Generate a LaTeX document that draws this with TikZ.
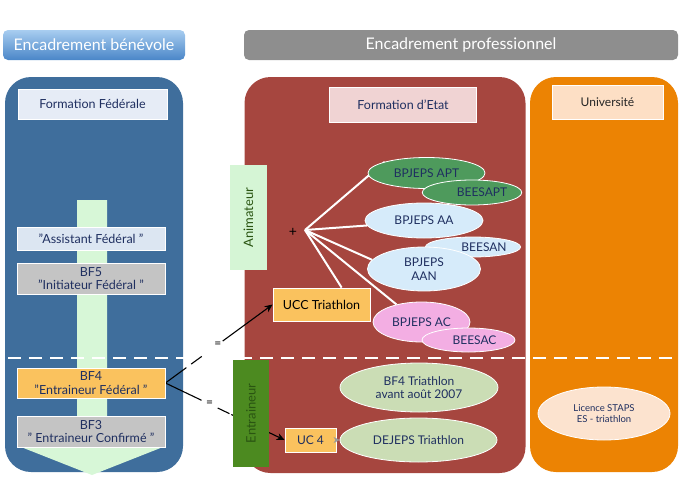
\documentclass[tikz,border=0pt]{standalone}
\usepackage{fontspec}
\setmainfont{Lato}
\usetikzlibrary{shapes.geometric,arrows.meta,calc}
\pgfdeclarelayer{back}
\pgfdeclarelayer{mid}
\pgfsetlayers{back,mid,main}
\definecolor{bluepanel}{HTML}{3F6E9C}
\definecolor{redpanel}{HTML}{A6463F}
\definecolor{orangepanel}{HTML}{EC8303}
\definecolor{grayhead}{HTML}{8E8E8E}
\definecolor{bluetop}{HTML}{A8CDF0}
\definecolor{bluebot}{HTML}{4A86C8}
\definecolor{fedbox}{HTML}{E6ECF6}
\definecolor{arrowgreen}{HTML}{D7F7D7}
\definecolor{assistbox}{HTML}{DCE6F2}
\definecolor{graybox}{HTML}{C4C4C4}
\definecolor{yellowbox}{HTML}{FAC25E}
\definecolor{etatbox}{HTML}{F0D3D3}
\definecolor{animbox}{HTML}{D5F5D5}
\definecolor{aptgreen}{HTML}{4E9A5C}
\definecolor{lightblue}{HTML}{D6EBFA}
\definecolor{pinkell}{HTML}{F3AEE3}
\definecolor{oliveell}{HTML}{CBDDB5}
\definecolor{licell}{HTML}{FCE3CF}
\definecolor{univbox}{HTML}{FDDFC5}
\definecolor{entrgreen}{HTML}{4C8A20}
\definecolor{navytext}{HTML}{1F2F60}
\definecolor{darkgreentext}{HTML}{2A5512}
\tikzset{
  x=1pt, y=-1pt,
  every node/.style={font=\fontsize{12}{13.5}\selectfont, text=navytext, align=center, inner sep=1pt},
  header/.style={rounded corners=5pt, minimum height=30, text=white, font=\fontsize{16}{18}\selectfont},
  panel/.style={rounded corners=26pt, draw=none},
  lbox/.style={draw=white, line width=0.8pt, text=black, font=\fontsize{12.5}{13.5}\selectfont},
  ell/.style={ellipse, draw=white, line width=0.8pt, inner sep=0pt},
  fanline/.style={draw=white, line width=2pt},
  linkline/.style={draw=black, line width=1.1pt},
  sepline/.style={draw=white, line width=2.5pt, dash pattern=on 13pt off 8pt},
}
\begin{document}
\begin{tikzpicture}
\useasboundingbox (0,0) rectangle (686,482);
% headers
\node[header, top color=bluetop, bottom color=bluebot, minimum width=182] (hbenev) at (94,45) {Encadrement bénévole};
\node[header, fill=grayhead, minimum width=434] (hpro) at (461,45) {Encadrement professionnel};
% panels
\begin{pgfonlayer}{back}
\node[panel, fill=bluepanel, minimum width=178, minimum height=395] (pblue) at (94,274.5) {};
\node[panel, fill=redpanel, minimum width=281, minimum height=396] (pred) at (385,275) {};
\node[panel, fill=orangepanel, minimum width=148, minimum height=395] (porange) at (604,274.5) {};
% green arrow
\fill[arrowgreen] (77,200) -- (107,200) -- (107,447) -- (163,447) -- (92,475) -- (21,447) -- (77,447) -- cycle;
\coordinate (sepL) at (8,358);
\coordinate (sepR) at (680,358);
\end{pgfonlayer}
\begin{pgfonlayer}{mid}
\draw[sepline] (sepL) -- (sepR);
\end{pgfonlayer}
% left column
\node[lbox, fill=fedbox, minimum width=149, minimum height=30, text=navytext] (fed) at (92.5,104) {Formation Fédérale};
\node[lbox, fill=assistbox, minimum width=148, minimum height=23, text=navytext] (assist) at (91,239) {"Assistant Fédéral "};
\node[lbox, fill=graybox, minimum width=148, minimum height=31, text=navytext] (bf5) at (91,278.5) {BF5\\"Initiateur Fédéral "};
\node[lbox, fill=yellowbox, minimum width=148, minimum height=30, text=navytext] (bf4) at (91,383) {BF4\\"Entraineur Fédéral "};
\node[lbox, fill=graybox, minimum width=148, minimum height=31, text=navytext] (bf3) at (91,431.5) {BF3\\" Entraineur Confirmé "};
% middle column
\node[lbox, fill=etatbox, minimum width=147, minimum height=35, text=navytext] (etat) at (403,104.5) {Formation d'Etat};
\node[fill=animbox, minimum width=37, minimum height=105, inner sep=0pt] (anim) at (248.5,217.5) {};
\node[rotate=90, text=darkgreentext, font=\fontsize{13}{14}\selectfont] (animt) at (anim.center) {Animateur};
\node[text=black, font=\fontsize{14}{15}\selectfont] (plus) at (293,232) {+};
\coordinate (fan) at (305,230);
\node[lbox, fill=yellowbox, minimum width=97, minimum height=33] (ucc) at (321.5,304.5) {UCC Triathlon};
\node[ell, fill=aptgreen, minimum width=117, minimum height=31] (apt) at (426.5,173) {BPJEPS APT};
\node[ell, fill=aptgreen, minimum width=91, minimum height=25] (beesapt) at (472,192.5) {\hspace*{20pt}BEESAPT};
\node[ell, fill=lightblue, minimum width=118, minimum height=35] (aa) at (424,220.5) {BPJEPS AA};
\node[ell, fill=lightblue, minimum width=90, minimum height=20] (beesan) at (473,247) {\hspace*{22pt}BEESAN};
\node[ell, fill=lightblue, minimum width=113, minimum height=44] (aan) at (424,269) {BPJEPS\\AAN};
\node[ell, fill=pinkell, minimum width=97, minimum height=40] (ac) at (421.5,322) {BPJEPS AC};
\node[ell, fill=pinkell, minimum width=93, minimum height=24] (beesac) at (468.5,340) {\hspace*{12pt}BEESAC};
\begin{pgfonlayer}{mid}
\draw[fanline] (fan) -- (apt.165);
\draw[fanline] (fan) -- (aa.185);
\draw[fanline] (fan) -- (aan.170);
\draw[fanline] (fan) -- (ac.145);
\draw[fanline] (fan) -- (ucc.40);
\end{pgfonlayer}
\node[fill=entrgreen, minimum width=36, minimum height=107, inner sep=0pt] (entr) at (251,413.5) {};
\node[rotate=90, text=darkgreentext, font=\fontsize{13}{14}\selectfont] (entrt) at (entr.center) {Entraineur};
\node[ell, fill=oliveell, minimum width=158, minimum height=49] (bf4tri) at (419,387.5) {BF4 Triathlon\\avant août 2007};
\node[lbox, fill=yellowbox, minimum width=51, minimum height=24, text=navytext, font=\fontsize{12}{13}\selectfont] (uc4) at (310.5,440) {UC 4};
\node[ell, fill=oliveell, minimum width=157, minimum height=44] (dejeps) at (418.5,440) {DEJEPS Triathlon};
\draw[-{Stealth[length=6pt,width=6pt]}, draw=gray!80, line width=1pt, dash pattern=on 5pt off 3pt] (uc4.east) -- (dejeps.west);
% right column
\node[lbox, fill=univbox, minimum width=111, minimum height=34, font=\fontsize{12}{13}\selectfont, text=black!85] (univ) at (607.5,102) {Université};
\node[ell, fill=licell, minimum width=132, minimum height=53, font=\fontsize{9.5}{11.5}\selectfont] (lic) at (604,413.5) {Licence STAPS\\ES - triathlon};
% links from BF4
\begin{pgfonlayer}{mid}
\draw[linkline, -{Stealth[length=8pt,width=7pt]}, dash pattern=on 26pt off 6pt on 13pt off 26pt on 80pt] (bf4.east) -- node[pos=0.49, text=black, inner sep=0pt] (eq1) {=} (ucc.west);
\draw[linkline, -{Stealth[length=8pt,width=7pt]}, dash pattern=on 40pt off 18pt on 13pt off 2pt on 80pt] (bf4.east) -- node[pos=0.37, text=black, inner sep=0pt] (eq2) {=} (uc4.west);
\end{pgfonlayer}
\end{tikzpicture}
\end{document}
